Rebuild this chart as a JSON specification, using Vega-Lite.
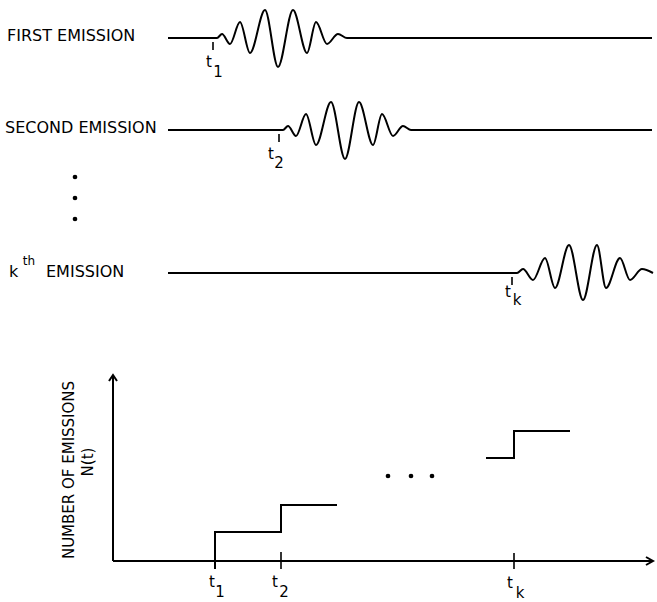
{
  "$schema": "https://vega.github.io/schema/vega-lite/v6.json",
  "width": 657,
  "height": 602,
  "autosize": {"type": "none"},
  "padding": 0,
  "background": "white",
  "config": {"view": {"stroke": null}},
  "datasets": {
    "waves": [
      {"emission": "first", "x": 168, "y": 38}, {"emission": "first", "x": 217, "y": 38}, {"emission": "first", "x": 222, "y": 34}, {"emission": "first", "x": 230, "y": 44}, {"emission": "first", "x": 240, "y": 22}, {"emission": "first", "x": 250, "y": 53}, {"emission": "first", "x": 265, "y": 10}, {"emission": "first", "x": 278, "y": 67}, {"emission": "first", "x": 293, "y": 10}, {"emission": "first", "x": 307, "y": 53}, {"emission": "first", "x": 316, "y": 22}, {"emission": "first", "x": 327, "y": 44}, {"emission": "first", "x": 338, "y": 34}, {"emission": "first", "x": 347, "y": 38}, {"emission": "first", "x": 652, "y": 38},
      {"emission": "second", "x": 168, "y": 130}, {"emission": "second", "x": 283, "y": 130}, {"emission": "second", "x": 288, "y": 126}, {"emission": "second", "x": 296, "y": 136}, {"emission": "second", "x": 306, "y": 114}, {"emission": "second", "x": 316, "y": 145}, {"emission": "second", "x": 331, "y": 102}, {"emission": "second", "x": 345, "y": 159}, {"emission": "second", "x": 359, "y": 102}, {"emission": "second", "x": 373, "y": 145}, {"emission": "second", "x": 382, "y": 114}, {"emission": "second", "x": 393, "y": 136}, {"emission": "second", "x": 403, "y": 126}, {"emission": "second", "x": 411, "y": 130}, {"emission": "second", "x": 652, "y": 130},
      {"emission": "kth", "x": 168, "y": 273}, {"emission": "kth", "x": 517, "y": 273}, {"emission": "kth", "x": 523, "y": 269}, {"emission": "kth", "x": 533, "y": 280}, {"emission": "kth", "x": 545, "y": 258}, {"emission": "kth", "x": 555, "y": 288}, {"emission": "kth", "x": 569, "y": 245}, {"emission": "kth", "x": 583, "y": 300}, {"emission": "kth", "x": 597, "y": 245}, {"emission": "kth", "x": 606, "y": 288}, {"emission": "kth", "x": 620, "y": 258}, {"emission": "kth", "x": 630, "y": 280}, {"emission": "kth", "x": 642, "y": 269}, {"emission": "kth", "x": 653, "y": 273}
    ],
    "paths": [
      {"path": "yaxis", "i": 0, "x": 113, "y": 561}, {"path": "yaxis", "i": 1, "x": 113, "y": 375},
      {"path": "xaxis", "i": 0, "x": 113, "y": 561}, {"path": "xaxis", "i": 1, "x": 653, "y": 561},
      {"path": "yarrow", "i": 0, "x": 109, "y": 381}, {"path": "yarrow", "i": 1, "x": 113, "y": 375}, {"path": "yarrow", "i": 2, "x": 117, "y": 381},
      {"path": "xarrow", "i": 0, "x": 646, "y": 557}, {"path": "xarrow", "i": 1, "x": 653, "y": 561}, {"path": "xarrow", "i": 2, "x": 646, "y": 565},
      {"path": "step1", "i": 0, "x": 215, "y": 569}, {"path": "step1", "i": 1, "x": 215, "y": 532}, {"path": "step1", "i": 2, "x": 281, "y": 532}, {"path": "step1", "i": 3, "x": 281, "y": 505}, {"path": "step1", "i": 4, "x": 337, "y": 505},
      {"path": "stepk", "i": 0, "x": 486, "y": 458}, {"path": "stepk", "i": 1, "x": 514, "y": 458}, {"path": "stepk", "i": 2, "x": 514, "y": 431}, {"path": "stepk", "i": 3, "x": 570, "y": 431}
    ],
    "ticks": [
      {"x": 213, "y": 42, "y2": 50}, {"x": 279, "y": 134, "y2": 142}, {"x": 512, "y": 277, "y2": 285},
      {"x": 281, "y": 552, "y2": 569}, {"x": 514, "y": 553, "y2": 569}
    ],
    "dots": [
      {"x": 75, "y": 177}, {"x": 75, "y": 198}, {"x": 75, "y": 219},
      {"x": 388, "y": 476}, {"x": 411, "y": 476}, {"x": 432, "y": 476}
    ],
    "labels": [
      {"group": "row", "label": "FIRST EMISSION", "x": 7, "y": 36},
      {"group": "row", "label": "SECOND EMISSION", "x": 5, "y": 128},
      {"group": "row", "label": "k", "x": 9, "y": 272},
      {"group": "row", "label": "EMISSION", "x": 46, "y": 272},
      {"group": "sup", "label": "th", "x": 29, "y": 261},
      {"group": "sym", "label": "t", "x": 209, "y": 62},
      {"group": "sym", "label": "1", "x": 218, "y": 72},
      {"group": "sym", "label": "t", "x": 271, "y": 154},
      {"group": "sym", "label": "2", "x": 279, "y": 163},
      {"group": "sym", "label": "t", "x": 508, "y": 292},
      {"group": "sym", "label": "k", "x": 517, "y": 300},
      {"group": "sym", "label": "t", "x": 212, "y": 582},
      {"group": "sym", "label": "1", "x": 220, "y": 592},
      {"group": "sym", "label": "t", "x": 275, "y": 582},
      {"group": "sym", "label": "2", "x": 284, "y": 592},
      {"group": "sym", "label": "t", "x": 510, "y": 583},
      {"group": "sym", "label": "k", "x": 520, "y": 593},
      {"group": "axis", "label": "NUMBER OF EMISSIONS", "x": 69, "y": 470},
      {"group": "axis", "label": "N(t)", "x": 88, "y": 462}
    ]
  },
  "encoding": {
    "x": {"field": "x", "type": "quantitative", "scale": {"domain": [0, 657], "nice": false, "zero": false}, "axis": null},
    "y": {"field": "y", "type": "quantitative", "scale": {"domain": [0, 602], "reverse": true, "nice": false, "zero": false}, "axis": null}
  },
  "layer": [
    {
      "data": {"name": "waves"},
      "mark": {"type": "line", "interpolate": "monotone", "color": "black", "strokeWidth": 2},
      "encoding": {"detail": {"field": "emission"}}
    },
    {
      "data": {"name": "paths"},
      "mark": {"type": "line", "color": "black", "strokeWidth": 2},
      "encoding": {"detail": {"field": "path"}, "order": {"field": "i", "type": "quantitative"}}
    },
    {
      "data": {"name": "ticks"},
      "mark": {"type": "rule", "color": "black", "strokeWidth": 1.6},
      "encoding": {"y2": {"field": "y2"}}
    },
    {
      "data": {"name": "dots"},
      "mark": {"type": "circle", "color": "black", "opacity": 1, "size": 22},
      "encoding": {}
    },
    {
      "data": {"name": "labels"},
      "transform": [{"filter": "datum.group === 'row'"}],
      "mark": {"type": "text", "align": "left", "baseline": "middle", "font": "DejaVu Sans", "fontSize": 16, "color": "black"},
      "encoding": {"text": {"field": "label"}}
    },
    {
      "data": {"name": "labels"},
      "transform": [{"filter": "datum.group === 'sup'"}],
      "mark": {"type": "text", "align": "center", "baseline": "middle", "font": "DejaVu Sans", "fontSize": 12, "color": "black"},
      "encoding": {"text": {"field": "label"}}
    },
    {
      "data": {"name": "labels"},
      "transform": [{"filter": "datum.group === 'sym'"}],
      "mark": {"type": "text", "align": "center", "baseline": "middle", "font": "DejaVu Sans", "fontSize": 15, "color": "black"},
      "encoding": {"text": {"field": "label"}}
    },
    {
      "data": {"name": "labels"},
      "transform": [{"filter": "datum.group === 'axis'"}],
      "mark": {"type": "text", "align": "center", "baseline": "middle", "angle": 270, "font": "DejaVu Sans", "fontSize": 15, "color": "black"},
      "encoding": {"text": {"field": "label"}}
    }
  ]
}
